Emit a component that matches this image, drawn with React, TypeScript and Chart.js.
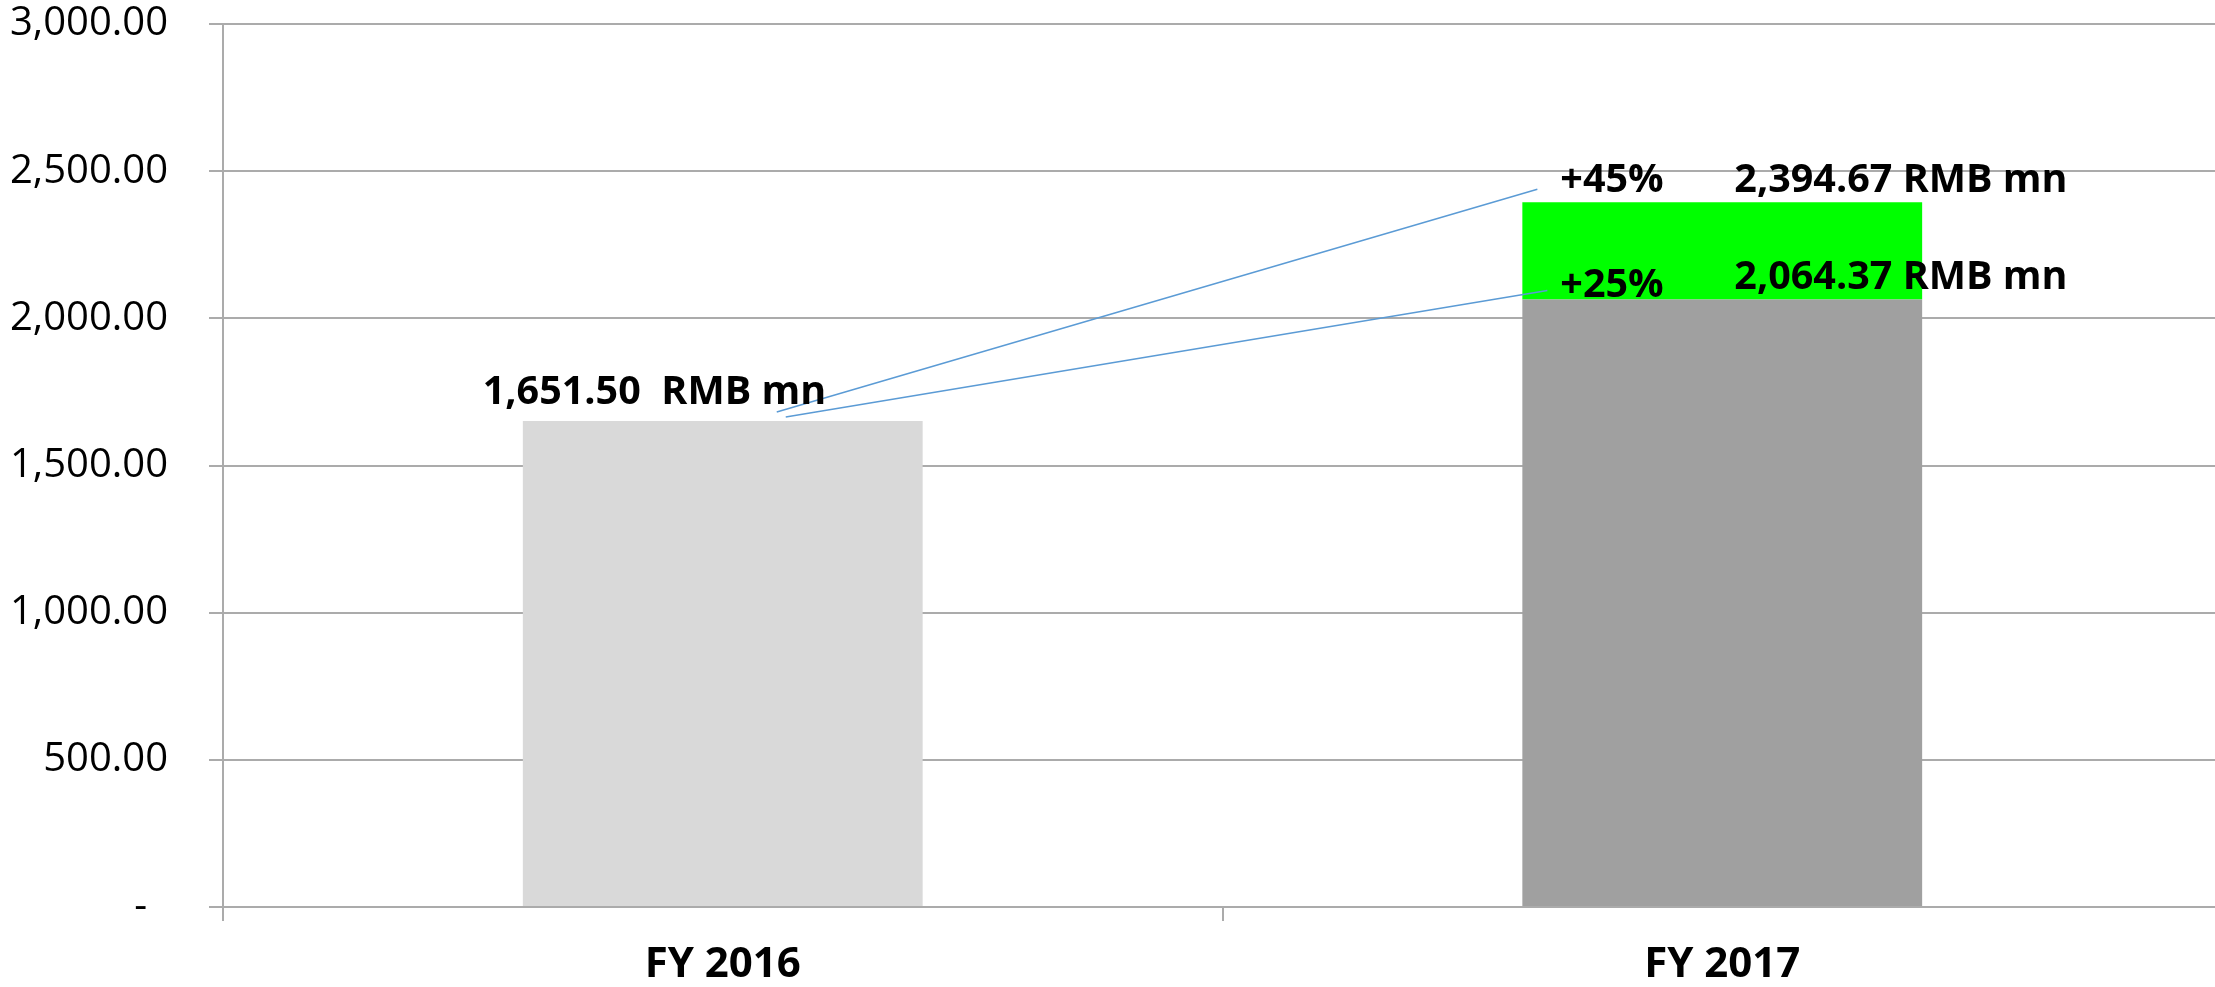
import React, { useEffect, useRef } from 'react';
import { Chart, registerables } from 'chart.js';

Chart.register(...registerables);

// ---- data ----
const categories = ['FY 2016', 'FY 2017'];
const baseValues = [1651.5, 2064.37];
const incrementValues = [null, 330.3];
const totalValues = [1651.5, 2394.67];
const baseColors = ['#d9d9d9', '#a0a0a0'];
const incrementColor = '#00ff00';
const yMin = 0;
const yMax = 3000;
const yStep = 500;
const valueLabels = ['1,651.50  RMB mn', '2,064.37 RMB mn', '2,394.67 RMB mn'];
const growthLabels = ['+25%', '+45%'];

const FONT = '"Open Sans", "Noto Sans", "DejaVu Sans", sans-serif';
const GRID = '#ababab';

const annotationPlugin = {
  id: 'annotations',
  afterDatasetsDraw(chart: any) {
    const xs = chart.scales.x;
    const ys = chart.scales.y;
    const ctx = chart.ctx;
    const meta = chart.getDatasetMeta(0);
    const bar17: any = meta.data[1];
    const c16 = xs.getPixelForValue(0);
    const c17 = xs.getPixelForValue(1);
    const w17 = bar17 && bar17.width ? bar17.width : 400;
    const left17 = c17 - w17 / 2;
    const top16 = ys.getPixelForValue(totalValues[0]);
    const yBase17 = ys.getPixelForValue(baseValues[1]);
    const yTotal17 = ys.getPixelForValue(totalValues[1]);

    ctx.save();
    // leader lines
    ctx.strokeStyle = '#5b9bd5';
    ctx.lineWidth = 1.5;
    ctx.beginPath();
    ctx.moveTo(c16 + 54, top16 - 9);
    ctx.lineTo(left17 + 15, yTotal17 - 13);
    ctx.moveTo(c16 + 63, top16 - 4);
    ctx.lineTo(left17 + 25, yBase17 - 9);
    ctx.stroke();

    ctx.fillStyle = '#000';
    ctx.textAlign = 'left';
    ctx.textBaseline = 'alphabetic';
    ctx.font = `bold 39.5px ${FONT}`;
    ctx.fillText(valueLabels[0], c16 - 240, top16 - 17);
    ctx.fillText(growthLabels[1], left17 + 38, yTotal17 - 10);
    ctx.fillText(valueLabels[2], left17 + 212, yTotal17 - 10);
    ctx.fillText(growthLabels[0], left17 + 38, yBase17 - 2);
    ctx.fillText(valueLabels[1], left17 + 212, yBase17 - 10);
    ctx.restore();
  },
};

export default function App() {
  const ref = useRef<HTMLCanvasElement | null>(null);

  useEffect(() => {
    if (!ref.current) return;
    const chart = new Chart(ref.current, {
      type: 'bar',
      data: {
        labels: categories,
        datasets: [
          {
            label: 'Base',
            data: baseValues,
            backgroundColor: baseColors,
            borderWidth: 0,
            barPercentage: 0.4,
            categoryPercentage: 1,
          },
          {
            label: 'Increment',
            data: incrementValues as any,
            backgroundColor: incrementColor,
            borderWidth: 0,
            barPercentage: 0.4,
            categoryPercentage: 1,
          },
        ],
      },
      options: {
        animation: false,
        responsive: false,
        devicePixelRatio: 1,
        layout: { padding: { top: 24, right: 0, bottom: 0, left: 0 } },
        plugins: {
          legend: { display: false },
          tooltip: { enabled: false },
          title: { display: false },
        },
        scales: {
          x: {
            stacked: true,
            offset: true,
            grid: {
              offset: true,
              drawOnChartArea: false,
              drawTicks: true,
              tickLength: 14,
              color: GRID,
              lineWidth: 2,
            },
            border: { display: true, color: GRID, width: 2 },
            ticks: {
              color: '#000',
              padding: 19,
              font: { family: FONT, size: 42, weight: 'bold' },
            },
            afterFit(scale: any) {
              scale.height = 80;
              scale.paddingLeft = 0;
              scale.paddingRight = 0;
            },
          },
          y: {
            stacked: true,
            min: yMin,
            max: yMax,
            grid: {
              drawOnChartArea: true,
              drawTicks: true,
              tickLength: 14,
              color: GRID,
              lineWidth: 2,
            },
            border: { display: true, color: GRID, width: 2 },
            ticks: {
              stepSize: yStep,
              color: '#000',
              padding: 41,
              font: { family: FONT, size: 40 },
              callback: (v: any) =>
                Number(v) === 0
                  ? '-  '
                  : Number(v).toLocaleString('en-US', {
                      minimumFractionDigits: 2,
                      maximumFractionDigits: 2,
                    }),
            },
            afterFit(scale: any) {
              scale.width = 223;
              scale.paddingTop = 0;
              scale.paddingBottom = 0;
            },
          },
        },
      },
      plugins: [annotationPlugin],
    });
    return () => chart.destroy();
  }, []);

  return (
    <div
      style={{
        position: 'fixed',
        left: 0,
        top: 0,
        width: 2215,
        height: 987,
        overflow: 'hidden',
        background: '#fff',
      }}
    >
      <canvas ref={ref} width={2222} height={987} style={{ display: 'block', width: 2222, height: 987 }} />
    </div>
  );
}
